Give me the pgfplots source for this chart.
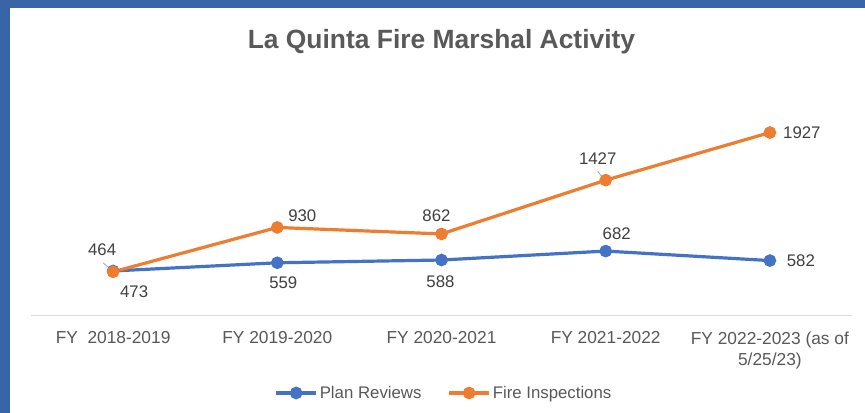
\documentclass[border=0pt]{standalone}
\usepackage{pgfplots}
\pgfplotsset{compat=1.18}
\usepackage{fontspec}
\setmainfont{Liberation Sans}
\definecolor{xlblue}{HTML}{4472C4}
\definecolor{xlorange}{HTML}{ED7D31}
\definecolor{txtgray}{HTML}{595959}
\definecolor{lblgray}{HTML}{404040}
\definecolor{axgray}{HTML}{D9D9D9}
\definecolor{frame}{HTML}{3A64A8}
\begin{document}
\begin{tikzpicture}
\useasboundingbox (0pt,0pt) rectangle (648.75pt,309.75pt);
\fill[white] (0pt,0pt) rectangle (648.75pt,309.75pt);
\fill[frame] (0pt,303.75pt) rectangle (648.75pt,309.75pt);
\fill[frame] (0pt,0pt) rectangle (7.5pt,309.75pt);
\node[text=txtgray,font=\bfseries\fontsize{19.8}{24}\selectfont,inner sep=0pt,anchor=base] at (331.1pt,273pt) {La Quinta Fire Marshal Activity};
\begin{axis}[
  at={(23.25pt,72.75pt)}, anchor=south west,
  scale only axis, width=615.75pt, height=178.5pt,
  xmin=-0.5, xmax=4.5, ymin=0, ymax=2500,
  axis x line=bottom, axis y line=none,
  x axis line style={draw=axgray,line width=0.75pt,-},
  xtick={0,1,2,3,4},
  xticklabels={{FY\ \ 2018-2019},{FY 2019-2020},{FY 2020-2021},{FY 2021-2022},{FY 2022-2023 (as of\\5/25/23)}},
  major tick length=0pt,
  xtick style={draw=none},
  xticklabel style={text=txtgray,font=\fontsize{13}{15.75}\selectfont,align=center,inner sep=0pt,yshift=-11.5pt},
  clip=false,
  legend columns=2,
  legend style={at={(0.503,-0.3235)},anchor=center,draw=none,fill=none,
    font=\fontsize{12.6}{15}\selectfont,text=txtgray,
    /tikz/every even column/.append style={column sep=18pt},
    nodes={inner xsep=1.5pt}},
  legend image code/.code={\draw[mark repeat=2,mark phase=2,#1] plot coordinates {(0pt,0pt) (15pt,0pt) (30pt,0pt)};},
]
\draw[gray!70,line width=0.6pt] ([xshift=-7.5pt,yshift=6.75pt]axis cs:0,464) -- ([xshift=-1.5pt,yshift=1.5pt]axis cs:0,464);
\draw[gray!70,line width=0.6pt] ([xshift=-6pt,yshift=6.75pt]axis cs:3,1427) -- ([xshift=-1.5pt,yshift=0.75pt]axis cs:3,1427);
\addplot[color=xlblue,line width=2.4pt,mark=*,mark size=3.5pt,mark options={solid,fill=xlblue,draw=none}]
  coordinates {(0,473) (1,559) (2,588) (3,682) (4,582)};
\addlegendentry{Plan Reviews}
\addplot[color=xlorange,line width=2.4pt,mark=*,mark size=3.5pt,mark options={solid,fill=xlorange,draw=none}]
  coordinates {(0,464) (1,930) (2,862) (3,1427) (4,1927)};
\addlegendentry{Fire Inspections}
\begin{scope}[every node/.style={text=lblgray,font=\fontsize{12.6}{15}\selectfont,inner sep=0pt,anchor=center}]
\node at ([xshift=15.75pt,yshift=-15.75pt]axis cs:0,473) {473};
\node at ([xshift=4.5pt,yshift=-15pt]axis cs:1,559) {559};
\node at ([xshift=-0.75pt,yshift=-16.5pt]axis cs:2,588) {588};
\node at ([xshift=8.25pt,yshift=12.75pt]axis cs:3,682) {682};
\node at ([xshift=23.25pt,yshift=0pt]axis cs:4,582) {582};
\node at ([xshift=-8.25pt,yshift=16.5pt]axis cs:0,464) {464};
\node at ([xshift=18.75pt,yshift=9pt]axis cs:1,930) {930};
\node at ([xshift=-3.75pt,yshift=13.5pt]axis cs:2,862) {862};
\node at ([xshift=-6pt,yshift=16.5pt]axis cs:3,1427) {1427};
\node at ([xshift=24pt,yshift=0pt]axis cs:4,1927) {1927};
\end{scope}
\end{axis}
\end{tikzpicture}
\end{document}
